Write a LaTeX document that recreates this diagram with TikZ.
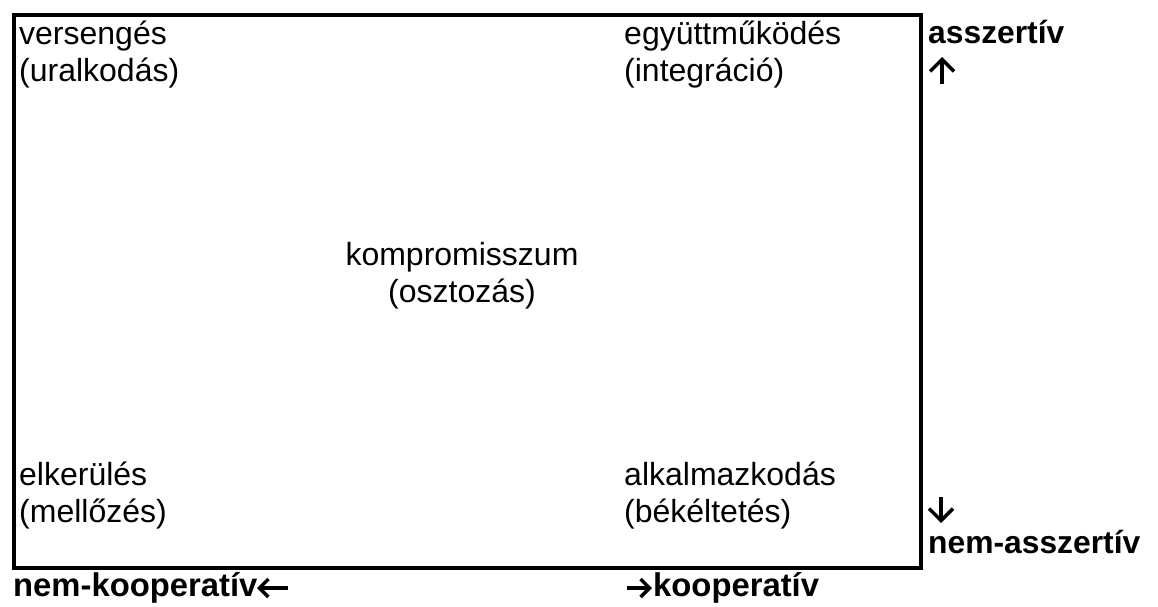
\documentclass[tikz,border=0pt]{standalone}
\usepackage{fontspec}
\setmainfont{Liberation Sans}
\usetikzlibrary{arrows.meta}
\begin{document}
\begin{tikzpicture}[x=1pt,y=-1pt,
  lbl/.style={inner sep=0pt, font=\fontsize{32}{36.5}\selectfont, align=left, anchor=base west},
  blbl/.style={lbl, font=\fontsize{31.8}{36.5}\selectfont\bfseries},
  bblbl/.style={lbl, font=\fontsize{32.8}{36.5}\selectfont\bfseries},
  arrV/.style={line width=3.5pt, -{Straight Barb[length=12pt,width=24pt]}},
  arrH/.style={line width=3.5pt, -{Straight Barb[length=9pt,width=18pt]}}]
\useasboundingbox (0,0) rectangle (1158,606);
\node[draw, line width=4pt, minimum width=906.5pt, minimum height=553.5pt, anchor=north west, inner sep=0pt] (box) at (12,12.5) {};
\node[lbl] (vers) at (19,81) {versengés\\(uralkodás)};
\node[lbl] (egy) at (624,81) {együttműködés\\(integráció)};
\node[lbl, align=center, anchor=base] (komp) at (462,302) {kompromisszum\\(osztozás)};
\node[lbl] (elk) at (19,522) {elkerülés\\(mellőzés)};
\node[lbl] (alk) at (624,522) {alkalmazkodás\\(békéltetés)};
\node[blbl] (assz) at (928,43) {asszertív};
\node[blbl] (nemassz) at (928,553) {nem-asszertív};
\node[bblbl] (nemkoop) at (13,596) {nem-kooperatív};
\node[bblbl] (koop) at (653,596) {kooperatív};
\coordinate (upS) at (942,84);
\coordinate (upE) at (942,57);
\draw[arrV] (upS) -- (upE);
\coordinate (dnS) at (941,497);
\coordinate (dnE) at (941,523);
\draw[arrV] (dnS) -- (dnE);
\coordinate (lfS) at (288,588);
\coordinate (lfE) at (257,588);
\draw[arrH] (lfS) -- (lfE);
\coordinate (rtS) at (627,588);
\coordinate (rtE) at (652,588);
\draw[arrH] (rtS) -- (rtE);
\end{tikzpicture}
\end{document}
